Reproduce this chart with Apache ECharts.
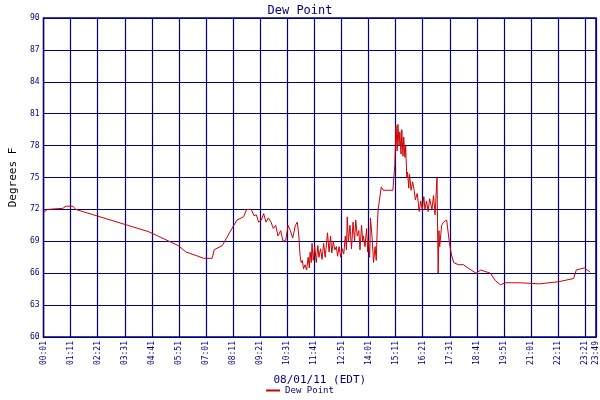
<!DOCTYPE html>
<html><head><meta charset="utf-8">
<script src="https://cdn.jsdelivr.net/npm/echarts@6/dist/echarts.min.js"></script>
<style>html,body{margin:0;padding:0;background:#fff}#c{width:600px;height:400px}</style>
</head><body><div id="c"></div>
<script>
// minutes since 00:01
const minutes = [0,10,50,58,76,83,272,348,368,399,414,436,441,462,487,500,517,525,537,544,550,556,563,569,575,581,588,594,600,606,613,619,626,632,638,644,651,656,660,663,666,669,672,676,680,684,687,689,692,694,697,701,705,709,712,716,720,724,728,734,738,742,745,749,753,757,760,764,768,772,776,780,783,785,788,792,796,800,804,807,811,815,818,822,825,827,831,835,838,840,843,845,849,853,857,860,863,865,870,873,878,890,903,908,911,914,916,919,921,924,926,929,931,934,936,939,941,944,946,950,954,958,961,966,971,975,979,983,986,990,994,998,1004,1008,1012,1017,1020,1022,1024,1029,1034,1042,1049,1054,1060,1072,1085,1097,1105,1118,1130,1155,1168,1181,1193,1231,1282,1332,1370,1377,1398,1405,1413,1428];
const dewPoint = [71.7,72.0,72.1,72.3,72.3,72.0,69.9,68.6,68.0,67.6,67.4,67.4,68.2,68.6,70.2,71.0,71.3,72.0,72.0,71.4,71.5,70.8,71.0,71.6,70.8,71.2,70.8,70.2,70.5,69.5,70.0,69.0,69.1,70.5,70.0,69.3,70.5,70.8,69.5,67.7,67.0,67.2,66.4,66.8,66.3,67.5,66.5,68.0,67.0,68.8,67.2,68.5,67.0,68.6,67.5,68.3,67.3,68.8,67.5,69.8,68.0,69.5,67.9,69.0,68.2,68.5,67.6,68.5,67.5,68.3,67.8,69.5,68.2,71.3,69.0,70.5,68.3,70.8,69.0,71.0,69.5,70.0,68.2,70.5,69.0,69.5,68.5,70.2,68.0,69.0,67.5,71.2,69.5,67.0,68.5,67.2,70.7,72.0,72.0,74.1,73.8,73.8,73.8,76.2,79.9,77.5,80.0,78.0,79.3,77.2,79.5,77.0,78.8,76.9,78.0,75.0,75.5,74.0,75.3,73.8,74.6,73.8,72.9,73.5,71.8,72.8,72.0,73.2,72.0,72.8,71.8,73.0,72.0,73.3,71.5,75.0,66.0,70.0,68.5,70.5,70.8,71.0,68.9,67.8,67.0,66.8,66.8,66.5,66.3,66.0,66.3,66.0,65.3,64.9,65.1,65.1,65.0,65.2,65.5,66.3,66.5,66.3,66.1];
const xTickMinutes = [0,70,140,210,280,350,420,490,560,630,700,770,840,910,980,1050,1120,1190,1260,1330,1400,1428];

function fmt(t){const m=t+1;const h=Math.floor(m/60),mm=m%60;return String(h).padStart(2,'0')+':'+String(mm).padStart(2,'0');}
const navy='#000080', font='DejaVu Sans Mono';
const chart = echarts.init(document.getElementById('c'));
chart.setOption({
  animation:false,
  backgroundColor:'#fff',
  title:{text:'Dew Point',left:'center',top:0,textStyle:{color:navy,fontFamily:font,fontSize:12,fontWeight:'normal'}},
  legend:{bottom:0,left:'center',itemWidth:14,itemHeight:2,icon:'rect',textStyle:{color:navy,fontFamily:font,fontSize:9},data:['Dew Point']},
  grid:{left:32,right:2,top:18,bottom:63,show:true,borderColor:navy,borderWidth:1.5},
  xAxis:{type:'value',min:0,max:1428,interval:70,
    name:'08/01/11 (EDT)',nameLocation:'middle',nameGap:38,nameTextStyle:{color:navy,fontFamily:font,fontSize:11},
    axisLine:{lineStyle:{color:navy}},
    axisTick:{show:false},
    splitLine:{show:true,lineStyle:{color:navy,width:1.2}},
    axisLabel:{customValues:xTickMinutes,rotate:90,color:navy,fontFamily:font,fontSize:8,formatter:v=>fmt(v),margin:4}},
  yAxis:{type:'value',min:60,max:90,interval:3,
    name:'Degrees F',nameLocation:'middle',nameGap:22,nameTextStyle:{color:'#000',fontFamily:font,fontSize:11},
    axisLine:{lineStyle:{color:navy}},axisTick:{show:false},
    splitLine:{lineStyle:{color:navy,width:1.2}},
    axisLabel:{color:navy,fontFamily:font,fontSize:8,margin:4}},
  series:[{name:'Dew Point',type:'line',data:minutes.map((t,i)=>[t,dewPoint[i]]),showSymbol:false,
    lineStyle:{color:'#cc0000',width:1},itemStyle:{color:'#cc0000'}}]
});
</script></body></html>
